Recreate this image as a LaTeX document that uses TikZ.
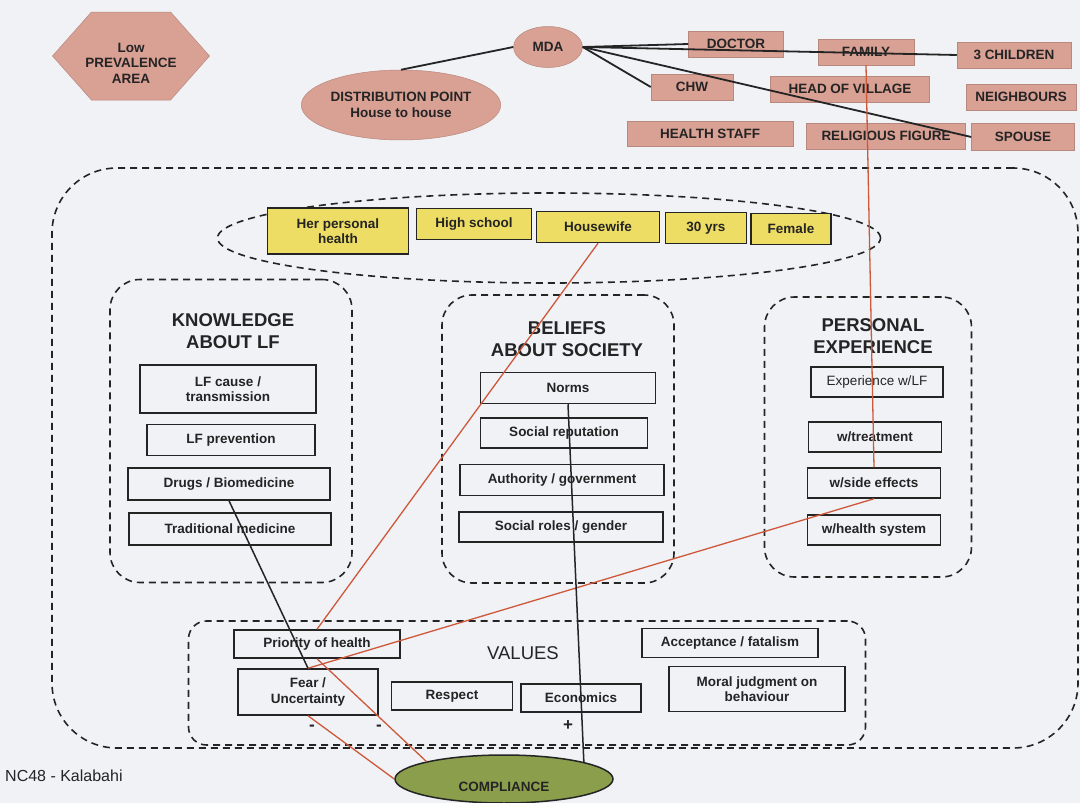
\documentclass[tikz,border=0pt]{standalone}
\usepackage{fontspec}
\setmainfont{Liberation Sans}
\usetikzlibrary{shapes,shapes.symbols,shapes.misc}

\definecolor{salmonfill}{RGB}{217,160,148}
\definecolor{lemonfill}{RGB}{238,221,100}
\definecolor{mossfill}{RGB}{138,158,76}
\definecolor{paper}{RGB}{240,242,246}
\definecolor{ink}{RGB}{36,36,36}
\definecolor{rust}{RGB}{206,88,58}

\begin{document}
\begin{tikzpicture}[x=1pt, y=-1pt,
      every node/.append style={align=center,inner sep=0pt,text=ink,
        font=\fontsize{13.5}{15.5}\selectfont\bfseries},
      grouping/.style={draw=ink,line width=1.6pt,dash pattern=on 7pt off 5pt,rounded corners=30pt},
      link/.style={draw=ink,line width=1.8pt},
      cause/.style={draw=rust,line width=1.3pt}]
    \tikzstyle{actor} = [fill=salmonfill,draw=salmonfill!85!black,line width=0.5pt,rectangle,minimum height=26pt]
    \tikzstyle{trait} = [fill=lemonfill,draw=ink,line width=1.5pt,rectangle,minimum height=31pt]
    \tikzstyle{item} = [draw=ink,line width=1.5pt,rectangle,minimum height=30pt]
    \tikzstyle{heading} = [font=\fontsize{18.5}{22}\selectfont\bfseries]
    \tikzstyle{sign} = [font=\fontsize{17}{17}\selectfont\bfseries]

    \fill[paper] (0,0) rectangle (1080,803);
    \useasboundingbox (0,0) rectangle (1080,803);

    \node[grouping,rounded corners=65pt,minimum width=1026pt,minimum height=580pt] (scene) at (565,458) {};
    \node[grouping,ellipse,minimum width=663pt,minimum height=90pt] (profile) at (549,238) {};
    \node[grouping,minimum width=242pt,minimum height=303pt] (knowledge) at (231,431) {};
    \node[grouping,minimum width=232pt,minimum height=288pt] (beliefs) at (558,439) {};
    \node[grouping,minimum width=207pt,minimum height=280pt] (personal) at (868,437) {};
    \node[grouping,rounded corners=18pt,minimum width=677pt,minimum height=124pt] (values) at (527,683) {};

    \node[actor,signal,signal to=west and east,signal pointer angle=97,
      minimum width=157pt,minimum height=88pt,
      label={[yshift=-7pt]center:Low\\PREVALENCE\\AREA}] (area) at (131,56) {};
    \node[actor,ellipse,minimum width=69pt,minimum height=41pt] (MDA) at (548,47) {MDA};
    \node[actor,ellipse,minimum width=172pt,minimum height=70pt] (dist) at (401,105) {DISTRIBUTION POINT\\House to house};
    \node[actor,minimum width=95pt] (doctor) at (736,44) {DOCTOR};
    \node[actor,minimum width=96pt] (family) at (866,52) {FAMILY};
    \node[actor,minimum width=114pt] (children) at (1014,55) {3 CHILDREN};
    \node[actor,minimum width=82pt] (chw) at (692,87) {CHW};
    \node[actor,minimum width=159pt] (headvillage) at (850,89) {HEAD OF VILLAGE};
    \node[actor,minimum width=110pt] (neighbours) at (1021,97) {NEIGHBOURS};
    \node[actor,minimum width=166pt,minimum height=25pt] (healthstaff) at (710,134) {HEALTH STAFF};
    \node[actor,minimum width=159pt] (religious) at (886,136) {RELIGIOUS FIGURE};
    \node[actor,minimum width=103pt,minimum height=27pt] (spouse) at (1023,137) {SPOUSE};

    \node[trait,minimum width=141pt,minimum height=46pt] (herhealth) at (338,231) {Her personal\\health};
    \node[trait,minimum width=115pt] (highschool) at (474,224) {High school};
    \node[trait,minimum width=123pt] (housewife) at (598,227) {Housewife};
    \node[trait,minimum width=81pt] (age) at (706,228) {30 yrs};
    \node[trait,minimum width=80pt] (female) at (791,229) {Female};

    \node[heading] (knowtitle) at (233,331) {KNOWLEDGE\\ABOUT LF};
    \node[item,minimum width=176pt,minimum height=48pt] (lfcause) at (228,389) {LF cause /\\transmission};
    \node[item,minimum width=168pt,minimum height=31pt] (lfprev) at (231,440) {LF prevention};
    \node[item,minimum width=202pt,minimum height=32pt] (drugs) at (229,484) {Drugs / Biomedicine};
    \node[item,minimum width=202pt,minimum height=32pt] (tradmed) at (230,529) {Traditional medicine};

    \node[heading] (belieftitle) at (567,339) {BELIEFS\\ABOUT SOCIETY};
    \node[item,minimum width=175pt,minimum height=31pt] (norms) at (568,388) {Norms};
    \node[item,minimum width=167pt] (reputation) at (564,433) {Social reputation};
    \node[item,minimum width=204pt,minimum height=31pt] (authority) at (562,480) {Authority / government};
    \node[item,minimum width=204pt] (roles) at (561,527) {Social roles / gender};

    \node[heading] (exptitle) at (873,336) {PERSONAL\\EXPERIENCE};
    \node[item,minimum width=132pt,font=\fontsize{13.5}{15.5}\selectfont] (experience) at (877,382) {Experience w/LF};
    \node[item,minimum width=133pt] (treatment) at (875,437) {w/treatment};
    \node[item,minimum width=133pt] (sideeffects) at (874,483) {w/side effects};
    \node[item,minimum width=133pt] (healthsys) at (874,530) {w/health system};

    \node[font=\fontsize{18.5}{22}\selectfont] (valtitle) at (523,653) {VALUES};
    \node[item,minimum width=166pt,minimum height=28pt] (priority) at (317,644) {Priority of health};
    \node[item,minimum width=140pt,minimum height=46pt] (fear) at (308,692) {Fear /\\Uncertainty};
    \node[item,minimum width=121pt,minimum height=28pt] (respect) at (452,696) {Respect};
    \node[item,minimum width=120pt,minimum height=28pt] (economics) at (581,698) {Economics};
    \node[item,minimum width=176pt,minimum height=29pt] (acceptance) at (730,643) {Acceptance / fatalism};
    \node[item,minimum width=176pt,minimum height=45pt] (moral) at (757,689) {Moral judgment on\\behaviour};

    \node[sign] (minusfear) at (312,728) {-};
    \node[sign] (minusprio) at (379,728) {-};
    \node[sign] (plusnorms) at (568,726) {+};

    \node[ellipse,fill=mossfill,draw=ink,line width=1.5pt,minimum width=218pt,minimum height=48pt,
      label={[yshift=-8pt]center:COMPLIANCE}] (compliance) at (504,779) {};
    \node[anchor=west,font=\fontsize{16}{18}\selectfont] (site) at (5,776) {NC48 - Kalabahi};

    \draw[link] (dist.north) -- (MDA.west);
    \draw[link] (MDA.east) -- (doctor.west);
    \draw[link] (MDA.east) -- (children.west);
    \draw[link] (MDA.east) -- (chw.west);
    \draw[link] (MDA.east) -- (spouse.west);
    \draw[cause] (family.south) -- (sideeffects.north);
    \draw[cause] (sideeffects.south) -- (fear.north);
    \draw[cause] (housewife.south) -- (priority.north);
    \draw[cause] (priority.south) -- (compliance.north west);
    \draw[cause] (fear.south) -- (compliance.west);
    \draw[link,line width=1.5pt] (drugs.south) -- (fear.north);
    \draw[link,line width=1.5pt] (norms.south) -- (compliance.12);
  \end{tikzpicture}
\end{document}
